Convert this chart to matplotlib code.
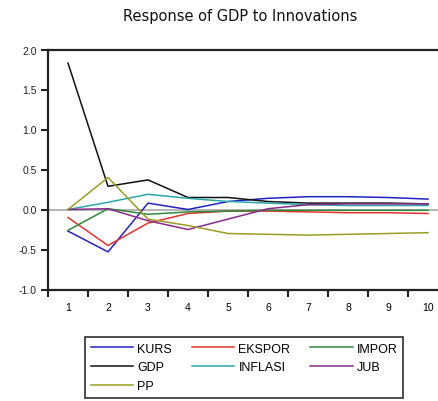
import matplotlib
matplotlib.use("Agg")
import matplotlib.pyplot as plt
from matplotlib.ticker import FixedLocator, NullFormatter

plt.rcParams['font.family'] = ['Liberation Sans', 'DejaVu Sans']

periods = list(range(1, 11))

kurs    = [-0.27, -0.53, 0.08, 0.00, 0.10, 0.14, 0.16, 0.16, 0.15, 0.13]
ekspor  = [-0.10, -0.45, -0.17, -0.05, -0.02, -0.02, -0.03, -0.04, -0.04, -0.05]
impor   = [-0.26, 0.01, -0.06, -0.03, -0.02, -0.01, -0.01, -0.01, -0.01, -0.01]
gdp     = [1.83, 0.29, 0.37, 0.15, 0.15, 0.10, 0.08, 0.08, 0.08, 0.07]
inflasi = [0.00, 0.09, 0.19, 0.14, 0.10, 0.08, 0.06, 0.05, 0.05, 0.05]
jub     = [0.00, 0.01, -0.14, -0.25, -0.12, 0.01, 0.06, 0.07, 0.07, 0.07]
pp      = [0.00, 0.40, -0.12, -0.20, -0.30, -0.31, -0.32, -0.31, -0.30, -0.29]

series_names = ['KURS', 'EKSPOR', 'IMPOR', 'GDP', 'INFLASI', 'JUB', 'PP']
series_values = [kurs, ekspor, impor, gdp, inflasi, jub, pp]
series_colors = ['#2222c4', '#e4342e', '#2e8a3a', '#111111',
                 '#2aa8a8', '#8a2a8a', '#9c9c24']

# legend is filled column by column, so list entries to read row-wise
legend_order = ['KURS', 'GDP', 'PP', 'EKSPOR', 'INFLASI', 'IMPOR', 'JUB']

yticks = [-1.0, -0.5, 0.0, 0.5, 1.0, 1.5, 2.0]

W, H = 438, 402
fig = plt.figure(figsize=(W / 100, H / 100), dpi=100)

# axes spans x 0.5..10.5; its right edge runs past the figure border
left_px, right_px, top_px, bottom_px = 48, 448, 50.5, 290.5
ax = fig.add_axes([left_px / W, 1 - bottom_px / H,
                   (right_px - left_px) / W, (bottom_px - top_px) / H])
ax.set_xlim(0.5, 10.5)
ax.set_ylim(-1.0, 2.0)

ax.axhline(0, color='#a8a8a8', lw=1.2, zorder=1)

handles = {}
for name, vals, col in zip(series_names, series_values, series_colors):
    ln, = ax.plot(periods, vals, color=col, lw=1.1, label=name, zorder=3)
    handles[name] = ln

for side in ['left', 'bottom', 'top']:
    ax.spines[side].set_linewidth(1.6)
    ax.spines[side].set_color('#222222')
ax.spines['right'].set_visible(False)

ax.set_yticks(yticks)
ax.set_yticklabels([f"{v:.1f}" for v in yticks])
ax.tick_params(axis='y', direction='out', length=5, width=1.5,
               labelsize=7.5, pad=3, colors='#222222')

ax.xaxis.set_major_locator(FixedLocator([p - 0.5 for p in periods] + [10.5]))
ax.xaxis.set_major_formatter(NullFormatter())
ax.xaxis.set_minor_locator(FixedLocator(periods))
ax.set_xticklabels([str(p) for p in periods], minor=True)
ax.tick_params(axis='x', which='major', direction='out', length=5, width=1.5,
               colors='#222222')
ax.tick_params(axis='x', which='minor', length=0, labelsize=7.5, pad=9)

fig.text(240 / W, 1 - 17 / H, 'Response of GDP to Innovations',
         ha='center', va='center', fontsize=10.5, color='#111111',
         family='DejaVu Sans')

leg = fig.legend(handles=[handles[n] for n in legend_order],
                 loc='upper left',
                 bbox_to_anchor=(85 / W, 1 - 338 / H),
                 bbox_transform=fig.transFigure, ncol=3,
                 fontsize=9, frameon=True, fancybox=False,
                 handlelength=3.4, handletextpad=0.32, columnspacing=1.6,
                 labelspacing=0.55, borderpad=0.45, borderaxespad=0)
leg.get_frame().set_edgecolor('#111111')
leg.get_frame().set_linewidth(1.3)

fig.savefig('out.png', dpi=100)
